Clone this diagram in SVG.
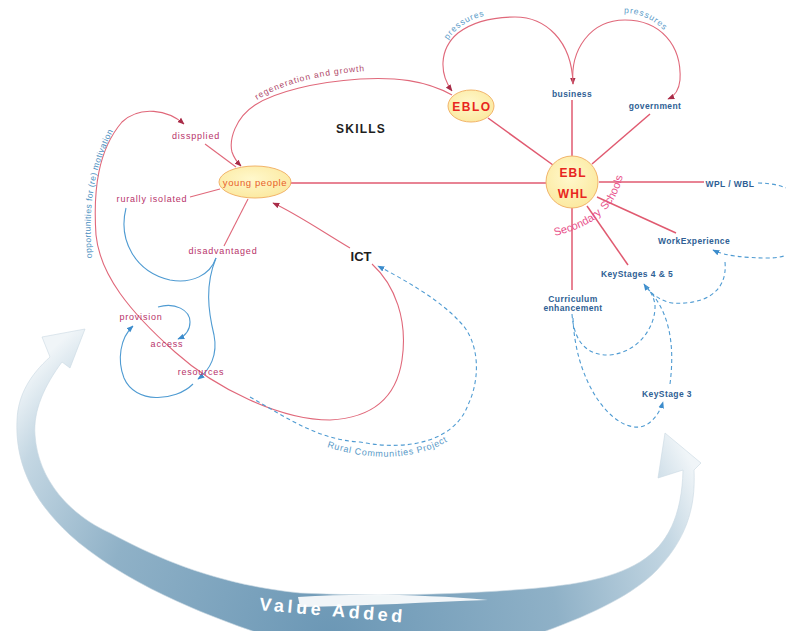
<svg xmlns="http://www.w3.org/2000/svg" width="786" height="631" viewBox="0 0 786 631">
<style>
text{font-family:"Liberation Sans",Arial,sans-serif}
.m{fill:#b8336a;font-size:9px;letter-spacing:0.8px}
.b{fill:#2f5f95;font-size:8.5px;font-weight:bold;letter-spacing:0.4px}
.c{text-anchor:middle}
.hub{fill:none;stroke:#e05a70;stroke-width:1.5}
.thin{fill:none;stroke:#e0687a;stroke-width:1.1}
.blue{fill:none;stroke:#4f9bd2;stroke-width:1.1}
.dash{fill:none;stroke:#4f9bd2;stroke-width:1.1;stroke-dasharray:4 3}
.arc{fill:#5a9ac8;font-size:8.5px;letter-spacing:0.9px}
.ss{fill:#e8508a;font-size:11px}
</style>
<defs>
<marker id="ar" viewBox="0 0 10 10" refX="9" refY="5" markerWidth="7" markerHeight="7" orient="auto-start-reverse" markerUnits="userSpaceOnUse"><path d="M0,1 L10,5 L0,9 z" fill="#a82c48"/></marker>
<marker id="ab" viewBox="0 0 10 10" refX="9" refY="5" markerWidth="7" markerHeight="7" orient="auto-start-reverse" markerUnits="userSpaceOnUse"><path d="M0,1 L10,5 L0,9 z" fill="#3c8ccc"/></marker>
<radialGradient id="va" cx="330" cy="640" r="415" gradientUnits="userSpaceOnUse">
<stop offset="0" stop-color="#6b97b5"/>
<stop offset="0.55" stop-color="#8fb1c7"/>
<stop offset="0.85" stop-color="#c4d7e3"/>
<stop offset="0.97" stop-color="#f0f5f8"/>
</radialGradient>
<radialGradient id="yel" cx="0.45" cy="0.4" r="0.7">
<stop offset="0" stop-color="#fff8cc"/>
<stop offset="1" stop-color="#fbe79a"/>
</radialGradient>
<path id="tpPressL" d="M 448,40 C 458,24 477,15 505,12"/>
<path id="tpPressR" d="M 624,13 C 645,13 663,25 676,45"/>
<path id="tpRegen" d="M 257,100 C 285,82 330,72 386,70"/>
<path id="tpOpp" d="M 92,258 C 88,210 91,165 122,116"/>
<path id="tpRCP" d="M 327,447 C 370,461 425,463 462,431"/>
<path id="tpSS" d="M 555,236 C 585,228 618,215 624,168"/>
</defs>
<rect width="786" height="631" fill="#ffffff"/>

<g id="value-added">
<path d="M 85,329 L 70,368 L 62,362 C 45,385 33,410 35,435 C 38,480 70,515 110,533 C 160,560 220,585 300,593 C 380,597 460,594 513,590 C 570,586 610,580 640,562 C 668,545 682,515 683,470 L 658,478 L 665,433 L 701,463 L 694,470 C 696,510 685,540 657,570 C 630,598 580,620 520,640 L 280,640 C 200,615 120,580 70,535 C 30,498 15,460 17,420 C 18,395 30,375 50,357 L 42,337 Z" fill="url(#va)" stroke="#c9d8e3" stroke-width="0.6"/>
<path d="M 298,597 C 360,593 430,595 488,600 C 430,602 365,606 300,607 Z" fill="#ffffff" opacity="0.9"/>
<text x="259" y="610" transform="rotate(5 259 610)" fill="#ffffff" font-size="18" font-weight="bold" letter-spacing="3.6">Value Added</text>
</g>

<g id="connectors">
<path class="hub" d="M 290,183 L 546,183"/>
<path class="hub" d="M 599,182 L 704,182"/>
<path class="hub" d="M 572,157 L 572,100"/>
<path class="hub" d="M 572,208 L 572,290"/>
<path class="hub" d="M 553,165 L 488,118"/>
<path class="hub" d="M 592,164 L 650,114"/>
<path class="hub" d="M 597,197 L 676,233"/>
<path class="hub" d="M 587,206 L 628,265"/>
<path class="thin" d="M 205,144 L 236,167"/>
<path class="thin" d="M 190,197 L 220,189"/>
<path class="thin" d="M 224,246 L 248,199"/>
<path class="thin" d="M 350,248 C 320,230 295,213 273,203" marker-end="url(#ar)"/>
<path class="thin" d="M 372,264 C 395,285 408,320 402,360 C 396,400 370,418 330,420 C 280,420 215,388 175,352 C 130,312 100,275 96,235 C 93,190 98,150 122,122 C 140,105 168,110 184,124" marker-end="url(#ar)"/>
<path class="thin" d="M 452,95 C 425,80 395,77 360,79 C 315,82 275,92 255,105 C 235,118 229,140 232,152 C 234,158 237,162 241,166" marker-end="url(#ar)"/>
<path class="thin" d="M 452,91 C 440,75 438,50 458,33 C 475,20 495,17 515,17 C 545,17 572,40 573,84" marker-start="url(#ar)" marker-end="url(#ar)"/>
<path class="thin" d="M 573,84 C 570,50 590,20 625,20 C 660,20 682,45 680,80 C 679,90 675,96 668,99" marker-end="url(#ar)"/>
<path class="blue" d="M 126,208 C 118,240 135,272 170,280 C 192,284 210,275 216,258"/>
<path class="blue" d="M 216,258 C 205,285 208,310 214,335 C 218,355 210,370 198,379" marker-end="url(#ab)"/>
<path class="blue" d="M 158,307 C 175,302 190,310 190,322 C 190,330 185,336 178,339" marker-end="url(#ab)"/>
<path class="blue" d="M 193,384 C 175,402 135,404 124,378 C 117,360 120,338 133,326" marker-end="url(#ab)"/>
<path class="dash" d="M 250,397 C 290,420 320,440 360,442 C 410,452 455,440 468,405 C 482,375 478,340 460,322 C 440,300 405,280 378,266" marker-end="url(#ab)"/>
<path class="dash" d="M 758,183 C 790,183 815,200 815,220 C 815,245 790,258 770,258 C 745,258 725,256 713,250" marker-end="url(#ab)"/>
<path class="dash" d="M 725,262 C 728,295 700,305 672,303 C 660,301 650,293 644,284" marker-end="url(#ab)"/>
<path class="dash" d="M 572,314 C 574,345 590,356 610,355 C 640,352 656,325 655,305 C 654,297 650,290 645,285"/>
<path class="dash" d="M 573,318 C 575,380 610,430 640,427 C 652,425 660,412 663,402" marker-end="url(#ab)"/>
<path class="dash" d="M 670,384 C 675,345 670,310 645,286"/>
<text class="arc"><textPath href="#tpPressL">pressures</textPath></text>
<text class="arc"><textPath href="#tpPressR">pressures</textPath></text>
<text fill="#b04a6a" font-size="8.5" letter-spacing="0.9"><textPath href="#tpRegen">regeneration and growth</textPath></text>
<text fill="#4b8fbf" font-size="8.5" letter-spacing="0.4"><textPath href="#tpOpp">opportunities for (re) motivation</textPath></text>
<text fill="#5a9ac8" font-size="9" letter-spacing="0.7"><textPath href="#tpRCP">Rural Communities Project</textPath></text>
<text class="ss"><textPath href="#tpSS">Secondary</textPath></text>
<text class="ss"><textPath href="#tpSS" startOffset="57">Schools</textPath></text>
</g>

<g id="young-people">
<ellipse cx="255" cy="182" rx="36" ry="16" fill="url(#yel)" stroke="#f2b46a" stroke-width="1"/>
<text class="c" x="255" y="186" fill="#e8602a" font-size="9.5" letter-spacing="0.6">young people</text>
</g>
<g id="eblo">
<ellipse cx="471" cy="106" rx="23" ry="16" fill="url(#yel)" stroke="#f2b46a" stroke-width="1"/>
<text class="c" x="472" y="111" fill="#e8261e" font-size="12" font-weight="bold" letter-spacing="1.5">EBLO</text>
</g>
<g id="ebl-whl">
<circle cx="572" cy="182" r="26" fill="url(#yel)" stroke="#f2b46a" stroke-width="1"/>
<text class="c" x="573" y="177" fill="#e8261e" font-size="12" font-weight="bold" letter-spacing="1">EBL</text>
<text class="c" x="573" y="198" fill="#e8261e" font-size="12" font-weight="bold" letter-spacing="1">WHL</text>
</g>
<g id="skills"><text class="c" x="361" y="133" fill="#1e1e1e" font-size="12" font-weight="bold" letter-spacing="1.2">SKILLS</text></g>
<g id="ict"><text class="c" x="361" y="261" fill="#1e1e1e" font-size="13" font-weight="bold" stroke="#ffffff" stroke-width="3" paint-order="stroke">ICT</text></g>
<g id="disspplied"><text class="m c" x="196" y="139">disspplied</text></g>
<g id="rurally-isolated"><text class="m c" x="152" y="202">rurally isolated</text></g>
<g id="disadvantaged"><text class="m c" x="223" y="254">disadvantaged</text></g>
<g id="provision"><text class="m c" x="141" y="320">provision</text></g>
<g id="access"><text class="m c" x="167" y="347">access</text></g>
<g id="resources"><text class="m c" x="201" y="375">resources</text></g>
<g id="business"><text class="b c" x="572" y="97">business</text></g>
<g id="government"><text class="b c" x="655" y="109">government</text></g>
<g id="wpl-wbl"><text class="b c" x="730" y="187">WPL / WBL</text></g>
<g id="work-experience"><text class="b c" x="694" y="244" letter-spacing="0.2">WorkExperience</text></g>
<g id="keystages-4-5"><text class="b c" x="637" y="277">KeyStages 4 &amp; 5</text></g>
<g id="curriculum"><text class="b c" x="573" y="302" fill="#3b6ea8">Curriculum</text><text class="b c" x="573" y="311" fill="#3b6ea8">enhancement</text></g>
<g id="keystage-3"><text class="b c" x="667" y="397">KeyStage 3</text></g>
</svg>
